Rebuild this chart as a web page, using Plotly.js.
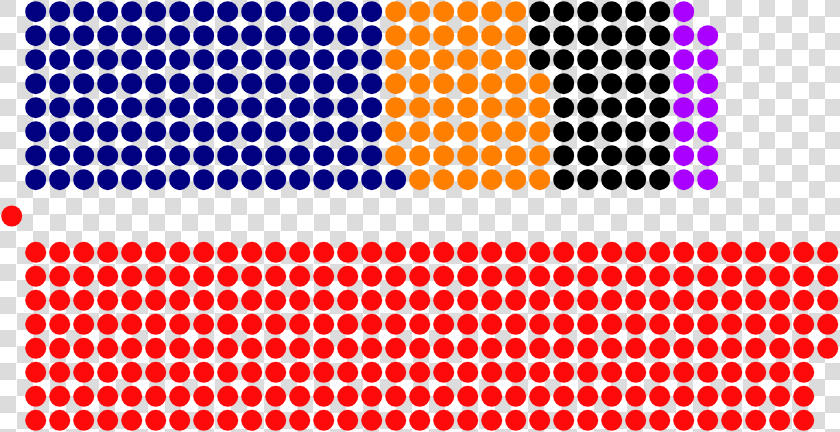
<!DOCTYPE html>
<html>
<head>
<meta charset="utf-8">
<script src="https://cdn.plot.ly/plotly-3.0.1.min.js"></script>
<style>
  html, body { margin: 0; padding: 0; }
  /* transparency checkerboard behind the seats */
  #container {
    width: 840px;
    height: 432px;
    background-color: #fff;
    background-image: conic-gradient(#fff 0 25%, #dcdcdc 0 50%, #fff 0 75%, #dcdcdc 0);
    background-size: 33px 33px;
  }
</style>
</head>
<body>
<div id="container"></div>
<script>
// Seats per party, top bench in filling order
const topParties = ["Navy", "Orange", "Black", "Purple"];
const topSeats = [121, 52, 43, 15];
const topColors = ["#000080", "#ff7f00", "#000000", "#aa00ff"];

// Bottom bench
const bottomParties = ["Red"];
const bottomSeats = [269];
const bottomColors = ["#ff0a0a"];

// Speaker
const speakerSeats = 1;
const speakerColor = "#ff0a0a";

// Geometry of the chamber (pixels)
const ROWS = 8;
const STEP = 24;
const X0 = 35.7;
const TOP_Y0 = 11.7;
const BOTTOM_Y0 = 252.3;
const DOT = 21;

// Розкладка місць: колонка за колонкою
const benchTraces = (names, seats, colors, y0, fromBottom) => {
  let traces = [];
  let s = 0;
  for (let i = 0; i < names.length; i++) {
    let xs = [];
    let ys = [];
    for (let j = 0; j < seats[i]; j++, s++) {
      let col = Math.floor(s / ROWS);
      let row = fromBottom ? ROWS - 1 - (s % ROWS) : s % ROWS;
      xs.push(X0 + col * STEP);
      ys.push(y0 + row * STEP);
    }
    traces.push({
      x: xs,
      y: ys,
      mode: "markers",
      type: "scatter",
      name: names[i],
      marker: { size: DOT, color: colors[i], line: { width: 0 } },
      hoverinfo: "name"
    });
  }
  return traces;
};

let data = [];
data = data.concat(benchTraces(topParties, topSeats, topColors, TOP_Y0, true));
data = data.concat(benchTraces(bottomParties, bottomSeats, bottomColors, BOTTOM_Y0, false));

let spX = [];
let spY = [];
for (let i = 0; i < speakerSeats; i++) {
  spX.push(11.7);
  spY.push(216);
}
data.push({
  x: spX,
  y: spY,
  mode: "markers",
  type: "scatter",
  name: "Speaker",
  marker: { size: DOT, color: speakerColor, line: { width: 0 } },
  hoverinfo: "name"
});

const layout = {
  width: 840,
  height: 432,
  margin: { l: 0, r: 0, t: 0, b: 0 },
  paper_bgcolor: "rgba(0,0,0,0)",
  plot_bgcolor: "rgba(0,0,0,0)",
  showlegend: false,
  xaxis: { range: [0, 840], visible: false, fixedrange: true },
  yaxis: { range: [432, 0], visible: false, fixedrange: true }
};

Plotly.newPlot("container", data, layout, { staticPlot: true });
</script>
</body>
</html>
